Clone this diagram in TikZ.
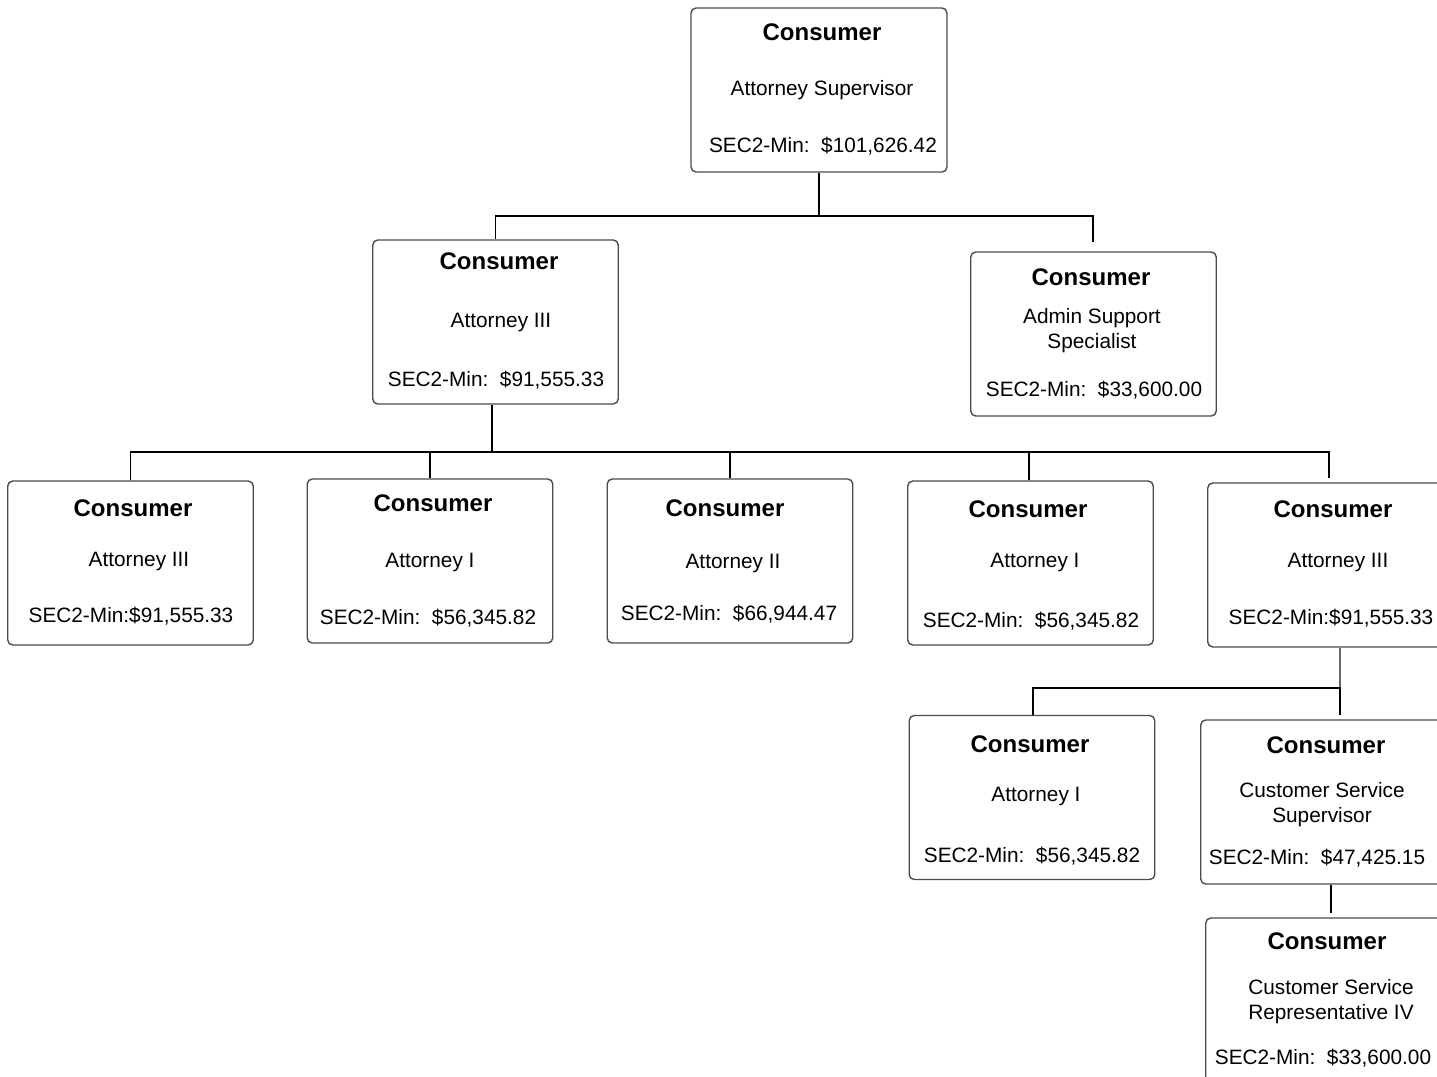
\documentclass[tikz,border=0pt]{standalone}
\usepackage{fontspec}
\setmainfont{Liberation Sans}
\tikzset{
  box/.style={draw=black!70, line width=0.7pt, rounded corners=2.5pt, fill=white, inner sep=0pt, minimum height=82pt},
  wbox/.style={box, minimum width=122.75pt},
  ttl/.style={font=\fontsize{12}{14}\selectfont\bfseries, inner sep=0pt},
  txt/.style={font=\fontsize{10.4}{12.5}\selectfont, inner sep=0pt, align=center, yshift=-0.75pt},
  conn/.style={draw=black, line width=0.9pt},
  thin/.style={draw=black!60, line width=0.6pt}
}
\begin{document}
\begin{tikzpicture}[x=0.5pt,y=-0.5pt]
\useasboundingbox (0,0) rectangle (1437,1077);
\clip (0,0) rectangle (1437,1077);
\fill[white] (0,0) rectangle (1437,1077);

% boxes
\node[box, minimum width=128pt] (top) at (819,90) {};
\node[wbox] (l2a) at (495.5,322) {};
\node[wbox] (l2b) at (1093.5,334) {};
\node[wbox] (c1) at (130.5,563) {};
\node[wbox] (c2) at (430,561) {};
\node[wbox] (c3) at (730,561) {};
\node[wbox] (c4) at (1030.5,563) {};
\node[wbox] (c5) at (1330.5,565) {};
\node[wbox] (d1) at (1032,797.5) {};
\node[wbox] (d2) at (1323.5,802) {};
\node[wbox] (e1) at (1328.5,1000) {};

% texts
\node[ttl] (top-t) at (822,32) {Consumer};
\node[txt] (top-r) at (822,89) {Attorney Supervisor};
\node[txt] (top-s) at (823,145) {SEC2-Min:\ \ \$101,626.42};

\node[ttl] (l2a-t) at (499,261) {Consumer};
\node[txt] (l2a-r) at (501,321) {Attorney III};
\node[txt] (l2a-s) at (496,379) {SEC2-Min:\ \ \$91,555.33};

\node[ttl] (l2b-t) at (1091,277) {Consumer};
\node[txt] (l2b-r) at (1092,329.5) {Admin Support\\Specialist};
\node[txt] (l2b-s) at (1094,389) {SEC2-Min:\ \ \$33,600.00};

\node[ttl] (c1-t) at (133,508) {Consumer};
\node[txt] (c1-r) at (139,560) {Attorney III};
\node[txt] (c1-s) at (131,615) {SEC2-Min:\$91,555.33};

\node[ttl] (c2-t) at (433,503) {Consumer};
\node[txt] (c2-r) at (430,561) {Attorney I};
\node[txt] (c2-s) at (428,617) {SEC2-Min:\ \ \$56,345.82};

\node[ttl] (c3-t) at (725,508) {Consumer};
\node[txt] (c3-r) at (733,562) {Attorney II};
\node[txt] (c3-s) at (729,613) {SEC2-Min:\ \ \$66,944.47};

\node[ttl] (c4-t) at (1028,509) {Consumer};
\node[txt] (c4-r) at (1035,561) {Attorney I};
\node[txt] (c4-s) at (1031,620) {SEC2-Min:\ \ \$56,345.82};

\node[ttl] (c5-t) at (1333,509) {Consumer};
\node[txt] (c5-r) at (1338,561) {Attorney III};
\node[txt] (c5-s) at (1331,617) {SEC2-Min:\$91,555.33};

\node[ttl] (d1-t) at (1030,744) {Consumer};
\node[txt] (d1-r) at (1036,795) {Attorney I};
\node[txt] (d1-s) at (1032,855) {SEC2-Min:\ \ \$56,345.82};

\node[ttl] (d2-t) at (1326,745) {Consumer};
\node[txt] (d2-r) at (1322,803.5) {Customer Service\\Supervisor};
\node[txt] (d2-s) at (1317,857) {SEC2-Min:\ \ \$47,425.15};

\node[ttl] (e1-t) at (1327,941) {Consumer};
\node[txt] (e1-r) at (1331,1000.5) {Customer Service\\Representative IV};
\node[txt] (e1-s) at (1323,1057) {SEC2-Min:\ \ \$33,600.00};

% connectors
\coordinate (bus1) at (0,216);
\coordinate (bus2) at (0,452);
\coordinate (bus3) at (0,688);
\coordinate (e2b) at (1093,242);
\coordinate (e5) at (1329,478);
\coordinate (d2top) at (1340,715);
\coordinate (e1top) at (1331,913);

\draw[conn] (top.south) -- (top.south |- bus1);
\draw[conn] (l2a.north) |- (e2b |- bus1) -- (e2b);

\draw[conn] (l2a.south -| 492,0) -- (bus2 -| 492,0);
\draw[conn] (c1.north) |- (e5 |- bus2) -- (e5);
\draw[conn] (c2.north) -- (c2.north |- bus2);
\draw[conn] (c3.north) -- (c3.north |- bus2);
\draw[conn] (c4.north -| 1029,0) -- (bus2 -| 1029,0);

\draw[thin] (c5.south -| d2top) -- (bus3 -| d2top);
\draw[conn] (d1.north -| 1033,0) |- (bus3 -| d2top) -- (d2top);

\draw[conn] (d2.south -| e1top) -- (e1top);
\end{tikzpicture}
\end{document}
